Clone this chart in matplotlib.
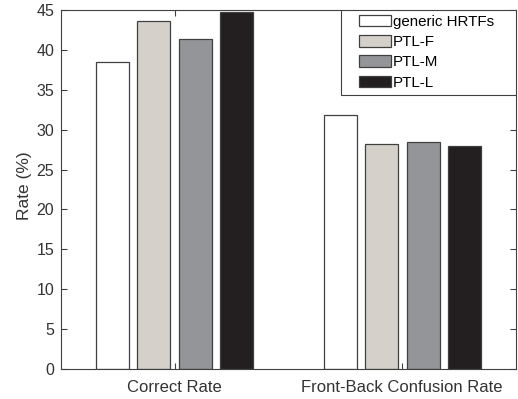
import numpy as np
import matplotlib.pyplot as plt
from matplotlib.patches import Rectangle
from matplotlib.transforms import ScaledTranslation

# rates (%)
groups = ['Correct Rate', 'Front-Back Confusion Rate']
series = ['generic HRTFs', 'PTL-F', 'PTL-M', 'PTL-L']
generic = [38.5, 31.9]
ptl_f = [43.6, 28.2]
ptl_m = [41.4, 28.5]
ptl_l = [44.8, 27.9]
colors = ['#ffffff', '#d5d1ca', '#939598', '#231f20']
yticks = list(range(0, 46, 5))

plt.rcParams['font.family'] = ['Liberation Sans', 'DejaVu Sans']
txt = '#333333'
edge = '#404040'

fig = plt.figure(figsize=(5.18, 3.99), dpi=100)
ax = fig.add_axes([0.118, 0.075, 0.878, 0.9])

x = np.arange(1, len(groups) + 1)
width = 0.145
offsets = [-0.272, -0.092, 0.092, 0.272]
for vals, name, c, off in zip([generic, ptl_f, ptl_m, ptl_l], series, colors, offsets):
    ax.bar(x + off, vals, width, color=c, edgecolor=edge, linewidth=0.9, label=name)

ax.set_xlim(0.5, 2.5)
ax.set_ylim(0, 45)
ax.set_xticks(x)
ax.set_xticklabels(groups, fontsize=12, color=txt)
ax.set_yticks(yticks)
ax.tick_params(axis='y', labelsize=11.5, labelcolor=txt)
ax.tick_params(direction='in', length=4, width=0.8, color=edge,
               top=True, right=True, pad=5)
ax.tick_params(axis='x', pad=8)
ax.set_ylabel('Rate (%)', fontsize=12.5, color=txt)
ax.yaxis.set_label_coords(-0.064, 0.51)
for s in ax.spines.values():
    s.set_color(edge)
    s.set_linewidth(0.8)

# legend without its own frame, the box is drawn wider like matlab does
shift = ax.transAxes + ScaledTranslation(-0.175, 0, fig.dpi_scale_trans)
leg = ax.legend(loc='upper right', bbox_to_anchor=(1, 1), bbox_transform=shift,
                fontsize=10.9, frameon=False, borderaxespad=0,
                handlelength=2.1, handleheight=0.8, handletextpad=0.13,
                labelspacing=0.42, borderpad=0.3)
for t in leg.get_texts():
    t.set_color('black')

fig.canvas.draw()
bb = leg.get_window_extent()
inv = ax.transAxes.inverted()
x0, y0 = inv.transform((bb.x0 - 13, bb.y0 - 1))
box = Rectangle((x0, y0), 1 - x0, 1 - y0, transform=ax.transAxes,
                facecolor='white', edgecolor=edge, linewidth=0.8, zorder=4.5)
ax.add_patch(box)

fig.savefig('out.png', dpi=100)
